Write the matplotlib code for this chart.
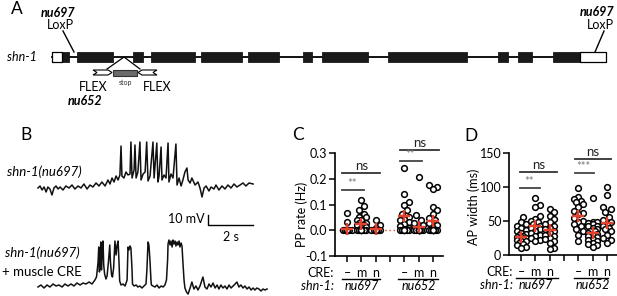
import matplotlib
matplotlib.use("Agg")
import matplotlib.pyplot as plt
from matplotlib.patches import Polygon
import matplotlib.transforms as mtransforms

plt.rcParams['font.family'] = ['Lato', 'DejaVu Sans']

# ---------------- DATA ----------------
# Panel A: gene model (schematic units along the gene)
gene_length = 554
utr5 = (0, 10)
utr3 = (528, 554)
exon_starts = [10, 25, 81, 99, 149, 196, 251, 270, 336, 446, 466, 501]
exon_ends = [17, 61, 91, 143, 190, 227, 260, 316, 415, 456, 480, 528]
loxp_left = 22
loxp_right = 543
flex_site = 72

# Panel B: voltage traces (time in s, membrane potential in mV rel. baseline)
t1 = [0.00, 0.09, 0.18, 0.27, 0.36, 0.44, 0.53, 0.62, 0.71, 0.80, 0.89, 0.98, 1.11, 1.24, 1.38,
      1.51, 1.64, 1.78, 1.91, 2.04, 2.18, 2.31, 2.44, 2.58, 2.71, 2.84, 2.98, 3.11, 3.20, 3.29,
      3.38, 3.47, 3.56, 3.64, 3.69, 3.73, 3.82, 3.91, 4.00, 4.09, 4.13, 4.18, 4.27, 4.31, 4.36,
      4.44, 4.53, 4.58, 4.67, 4.76, 4.83, 4.89, 4.98, 5.11, 5.16, 5.28, 5.33, 5.38, 5.47, 5.51,
      5.60, 5.69, 5.78, 5.82, 5.91, 6.00, 6.13, 6.18, 6.27, 6.36, 6.44, 6.53, 6.62, 6.67, 6.76,
      6.84, 6.98, 7.11, 7.20, 7.29, 7.38, 7.47, 7.60, 7.69, 7.82, 7.91, 8.04, 8.18, 8.31, 8.44,
      8.58, 8.71, 8.84, 8.98, 9.11, 9.24, 9.38, 9.56]
v1 = [0, 2, -2, 1, -4, 1, -1, -7, 0, 2, -1, 1, -2, 2, 0,
      3, -1, 2, 0, 4, -1, 3, 1, 5, 2, 6, 2, 8, 4, 10,
      6, 12, 8, 13, 42, 12, 10, 16, 13, 14, 46, 10, 18, 43, 10,
      16, 46, 8, 14, 16, 46, 7, 12, 46, 10, 45, 6, 12, 41, 8,
      13, 10, 45, 6, 14, 10, 44, 3, 10, 2, 8, 16, 20, 8, 5,
      10, 3, 6, 0, -9, 0, 2, -3, 1, -1, 3, -2, 2, -1, 3,
      0, 4, 1, 3, 5, 2, 5, 4]

t2 = [0.00, 0.13, 0.27, 0.40, 0.53, 0.67, 0.80, 0.93, 1.07, 1.20, 1.33, 1.47, 1.60, 1.73, 1.87,
      2.00, 2.13, 2.27, 2.40, 2.53, 2.60, 2.67, 2.70, 2.73, 2.76, 2.79, 2.82, 2.85, 2.89, 2.92,
      2.96, 3.02, 3.07, 3.13, 3.19, 3.22, 3.27, 3.31, 3.36, 3.42, 3.47, 3.51, 3.56, 3.60, 3.63,
      3.69, 3.78, 3.87, 3.96, 4.00, 4.04, 4.09, 4.13, 4.18, 4.20, 4.27, 4.36, 4.44, 4.53, 4.62,
      4.71, 4.80, 4.84, 4.89, 4.93, 4.98, 5.02, 5.04, 5.11, 5.20, 5.29, 5.38, 5.47, 5.56, 5.64,
      5.71, 5.76, 5.78, 5.82, 5.87, 5.91, 5.96, 6.00, 6.04, 6.09, 6.13, 6.18, 6.22, 6.27, 6.31,
      6.36, 6.40, 6.44, 6.49, 6.53, 6.60, 6.67, 6.76, 6.84, 6.93, 7.02, 7.11, 7.20, 7.33, 7.42,
      7.51, 7.60, 7.69, 7.78, 7.87, 7.96, 8.04, 8.13, 8.22, 8.31, 8.40, 8.49, 8.58, 8.67, 8.76,
      8.84, 8.93, 9.02, 9.11, 9.20, 9.29, 9.38, 9.47, 9.56, 9.64, 9.73, 9.82, 9.91, 10.00, 10.09,
      10.18]
v2 = [-1, 1, -2, 1, -1, 2, 0, 1, -1, 2, 0, 2, 0, 3, 1,
      3, 2, 4, 2, 6, 9, 24, 39, 14, 26, 44, 16, 31, 45, 21,
      12, 7, 10, 24, 41, 24, 11, 9, 18, 45, 31, 40, 45, 24, 5,
      1, 2, 0, 6, 39, 36, 40, 38, 16, 2, 0, 1, -1, 0, -2,
      0, 2, 16, 44, 41, 24, 6, 1, 0, -1, 1, -2, 0, -1, 1,
      6, 26, 42, 46, 41, 45, 39, 46, 42, 45, 40, 44, 41, 45, 39,
      43, 40, 24, 6, -2, -6, -8, -2, 4, -3, 0, -4, 0, 9, -1,
      -3, 2, -1, 3, -2, 1, -3, 1, -2, 0, -3, 1, -2, 0, 2,
      4, -1, 1, -2, 0, -3, -1, -4, -2, -4, -2, -3, -5, -3, -4,
      -3]

# Panels C and D
cre_labels = ["\u2013", "m", "n", "\u2013", "m", "n"]
strains = ["nu697", "nu652"]
group_pos = [0, 1, 2, 4, 5, 6]

pp_rate = [
    [0.067, 0.032] + [0.0] * 14,
    [0.117, 0.093, 0.078, 0.065, 0.052, 0.050, 0.039, 0.040, 0.028, 0.030, 0.019, 0.020,
     0.010, 0.012] + [0.0] * 10,
    [0.041, 0.019, 0.010] + [0.0] * 12,
    [0.243, 0.142, 0.110, 0.100, 0.078, 0.065, 0.052, 0.045, 0.040, 0.032, 0.025, 0.015,
     0.010, 0.005] + [0.0] * 8,
    [0.205, 0.058, 0.039, 0.028, 0.019, 0.010] + [0.0] * 14,
    [0.175, 0.168, 0.160, 0.091, 0.078, 0.062, 0.049, 0.039, 0.028, 0.019, 0.010] + [0.0] * 10,
]
pp_mean = [0.004, 0.024, 0.004, 0.054, 0.012, 0.036]

ap_width = [
    [56, 48, 45, 42, 40, 37, 35, 33, 31, 29, 28, 27, 26, 25, 24, 23, 22, 21, 20, 18, 16, 14, 12, 11],
    [84, 73, 70, 57, 53, 50, 48, 45, 43, 41, 40, 38, 35, 32, 30, 28, 25, 22, 21],
    [68, 63, 58, 53, 48, 45, 43, 40, 38, 35, 33, 30, 28, 25, 23, 20, 18, 10, 9],
    [98, 85, 83, 80, 78, 75, 70, 65, 62, 60, 55, 50, 48, 45, 42, 38, 35, 30, 20],
    [84, 49, 48, 47, 45, 43, 42, 40, 38, 36, 35, 33, 31, 30, 28, 26, 24, 22, 20, 18, 16, 14, 12],
    [100, 88, 70, 67, 63, 56, 52, 48, 46, 43, 40, 38, 35, 30, 25, 22, 18],
]
ap_mean = [27, 42, 37, 58, 33, 47]

# significance annotations: (x0, x1, y, label)
c_sig = [(-0.35, 2.33, 0.222, "ns"), (-0.35, 1.16, 0.158, "**"),
         (3.72, 6.4, 0.313, "ns"), (3.72, 5.23, 0.270, "**")]
d_sig = [(-0.1, 2.5, 122, "ns"), (-0.1, 1.3, 99, "**"),
         (3.76, 6.3, 141, "ns"), (3.76, 5.06, 121, "***")]

# ---------------- FIGURE ----------------
W, H = 617, 296
fig = plt.figure(figsize=(W / 100, H / 100), dpi=100)


def px_axes(x0, y0, x1, y1):
    return fig.add_axes([x0 / W, 1 - y1 / H, (x1 - x0) / W, (y1 - y0) / H])


def ftext(xp, yp, s, **kw):
    fig.text(xp / W, 1 - yp / H, s, **kw)


RED = "#e5412d"

# ---------- Panel A ----------
axA = px_axes(0, 0, W, 110)
axA.set_xlim(-52, W - 52)
axA.set_ylim(-53, 57)
axA.axis("off")
axA.plot([0, gene_length], [0, 0], color="black", lw=1.3, zorder=1)
axA.broken_barh([(s, e - s) for s, e in zip(exon_starts, exon_ends)], (-5, 10),
                facecolor="#1a1a1a", edgecolor="#1a1a1a", lw=0.6, zorder=2)
axA.broken_barh([(utr5[0], utr5[1] - utr5[0]), (utr3[0], utr3[1] - utr3[0])], (-5, 10),
                facecolor="white", edgecolor="black", lw=0.9, zorder=2)
axA.text(-45, 0, "shn-1", style="italic", fontsize=9, va="center", ha="left")
# LoxP sites
axA.plot([loxp_left - 11, loxp_left], [26, 5], color="black", lw=1.0)
axA.text(loxp_left - 16, 44, "nu697", style="italic", weight="bold", fontsize=9, ha="center", va="center")
axA.text(loxp_left - 14, 32, "LoxP", fontsize=9, ha="center", va="center")
axA.plot([loxp_right + 9, loxp_right], [26, 5], color="black", lw=1.0)
axA.text(loxp_right + 2, 45, "nu697", style="italic", weight="bold", fontsize=9, ha="center", va="center")
axA.text(loxp_right + 5, 32, "LoxP", fontsize=9, ha="center", va="center")
# FLEX insertion
axA.plot([flex_site - 17, flex_site, flex_site + 16], [-12, 0, -12], color="black", lw=0.9)
lx0, lx1 = flex_site - 31, flex_site - 12
axA.add_patch(Polygon([(lx0, -13), (lx1 - 4, -13), (lx1, -15.5), (lx1 - 4, -18), (lx0, -18),
                       (lx0 + 4, -15.5)], closed=True, facecolor="white", edgecolor="black", lw=0.8))
rx0, rx1 = flex_site + 14, flex_site + 33
axA.add_patch(Polygon([(rx1, -13), (rx0 + 4, -13), (rx0, -15.5), (rx0 + 4, -18), (rx1, -18),
                       (rx1 - 4, -15.5)], closed=True, facecolor="white", edgecolor="black", lw=0.8))
axA.add_patch(plt.Rectangle((flex_site - 11, -18.5), 24, 6, facecolor="#6b6b6b",
                            edgecolor="#333333", lw=0.8))
axA.text(flex_site + 1, -25.5, "stop", fontsize=5, ha="center", va="center", color="#333333")
axA.text(flex_site - 31, -30, "FLEX", fontsize=9, ha="center", va="center")
axA.text(flex_site + 33, -30, "FLEX", fontsize=9, ha="center", va="center")
axA.text(flex_site - 39, -44, "nu652", style="italic", weight="bold", fontsize=9, ha="center", va="center")

ftext(11, 1, "A", fontsize=12.5, va="top", ha="left")

# ---------- Panel B ----------
axB = px_axes(30, 130, 280, 296)
axB.set_xlim(-0.3556, 10.7556)
axB.set_ylim(-10, 156)
axB.axis("off")
axB.plot(t1, [v + 98 for v in v1], color="#111111", lw=1.1)
axB.plot(t2, v2, color="#111111", lw=1.1)
# scale bar 10 mV / 2 s
sb_t, sb_v = 7.56, 61
axB.plot([sb_t, sb_t, sb_t + 2], [sb_v + 10, sb_v, sb_v], color="black", lw=1.0)
axB.text(sb_t - 0.15, sb_v + 6, "10 mV", fontsize=9, ha="right", va="center")
axB.text(sb_t + 1.0, sb_v - 12, "2 s", fontsize=9, ha="center", va="center")

ftext(20, 127, "B", fontsize=12.5, va="top", ha="left")
ftext(7, 172, "shn-1(nu697)", style="italic", fontsize=9.5, va="center", ha="left")
ftext(5, 253, "shn-1(nu697)", style="italic", fontsize=9.5, va="center", ha="left")
ftext(2, 272, "+ muscle CRE", fontsize=9.5, va="center", ha="left")


# ---------- Panels C / D ----------
def swarm(vals, dpx, sx, sy, maxw):
    order = sorted(range(len(vals)), key=lambda i: vals[i])
    placed = []
    offs = [0.0] * len(vals)
    step = dpx * 0.4
    cands = [0.0]
    k = 1
    while k * step <= maxw:
        cands += [k * step, -k * step]
        k += 1
    for i in order:
        y = vals[i] * sy
        best, bestd = 0.0, -1
        for c in cands:
            md = min([((c - px) ** 2 + (y - py) ** 2) ** 0.5 for px, py in placed], default=1e9)
            if md >= dpx:
                best = c
                break
            if md > bestd:
                bestd, best = md, c
        placed.append((best, y))
        offs[i] = best / sx
    return offs


def scatter_panel(ax, data, means, sy, ylim, yticks, yticklabels, sig, ylabel, lab_coords,
                  cre_x, ul):
    ax.set_xlim(-0.85, 6.7)
    ax.set_ylim(*ylim)
    sx = 14.3
    for pos, vals, m in zip(group_pos, data, means):
        offs = swarm(vals, 5.5, sx, sy, 5.2)
        ax.scatter([pos + o for o in offs], vals, s=17, facecolors="white", edgecolors="black",
                   linewidths=1.1, zorder=3, clip_on=False)
        ax.plot([pos], [m], marker="+", color=RED, markersize=8, mew=1.7, zorder=4)
    for spine in ["top", "right"]:
        ax.spines[spine].set_visible(False)
    for spine in ["left", "bottom"]:
        ax.spines[spine].set_linewidth(1.2)
    ax.set_yticks(yticks)
    ax.set_yticklabels(yticklabels, fontsize=9)
    ax.set_xticks(range(7))
    ax.set_xticklabels([])
    ax.tick_params(axis="both", length=4, width=1.1, pad=1.5)
    ax.set_ylabel(ylabel, fontsize=9)
    ax.yaxis.set_label_coords(*lab_coords)
    yr = ylim[1] - ylim[0]
    for x0, x1, y, s in sig:
        col = "#444444" if s != "ns" else "#333333"
        ax.plot([x0, x1], [y, y], color=col, lw=1.3, clip_on=False)
        if s == "ns":
            ax.text((x0 + x1) / 2, y + 0.01 * yr, s, fontsize=9.5, ha="center", va="bottom",
                    color="#222222")
        else:
            ax.text((x0 + x1) / 2 - 0.05, y + 0.005 * yr, s, fontsize=8, ha="center",
                    va="bottom", color="#777777")
    tr = mtransforms.blended_transform_factory(ax.transData, ax.transAxes)
    for pos, lab in zip(group_pos, cre_labels):
        ax.text(pos, -0.165, lab, transform=tr, fontsize=9, ha="center", va="center")
    ax.text(cre_x, -0.165, "CRE:", transform=tr, fontsize=9, ha="right", va="center")
    ax.text(cre_x, -0.295, "shn-1:", transform=tr, fontsize=9, ha="right", va="center",
            style="italic")
    for (a, b), s, c in zip(ul, strains, [1, 5]):
        ax.plot([a, b], [-0.225, -0.225], transform=tr, color="black", lw=1.0, clip_on=False)
        ax.text(c, -0.295, s, transform=tr, fontsize=9, ha="center", va="center",
                style="italic")


axC = px_axes(335, 153, 443, 256)
scatter_panel(axC, pp_rate, pp_mean, 257.5, (-0.1, 0.3), [-0.1, 0.0, 0.1, 0.2, 0.3],
              ["-0.1", "0.0", "0.1", "0.2", "0.3"], c_sig, "PP rate (Hz)", (-0.25, 0.4),
              -0.95, [(-0.37, 2.3), (3.56, 6.35)])
axC.plot([-0.6, 6.7], [0, 0], color=RED, lw=1.0, ls=(0, (1, 2)), zorder=1, clip_on=False)

axD = px_axes(509, 153, 617, 255)
scatter_panel(axD, ap_width, ap_mean, 102 / 150, (0, 150), [0, 50, 100, 150],
              ["0", "50", "100", "150"], d_sig, "AP width (ms)", (-0.27, 0.47),
              -0.6, [(-0.35, 2.6), (3.66, 6.06)])

ftext(292, 127, "C", fontsize=12.5, va="top", ha="left")
ftext(464, 128, "D", fontsize=12.5, va="top", ha="left")

fig.savefig("out.png", dpi=100)
